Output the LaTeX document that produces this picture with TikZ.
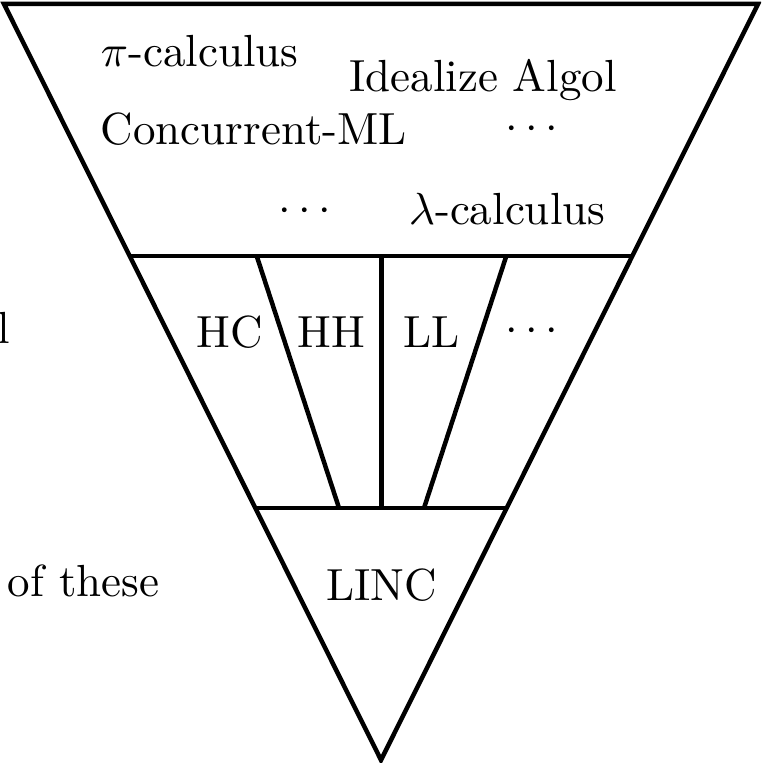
\documentclass[tikz,border=0pt]{standalone}
\begin{document}
\begin{tikzpicture}[x=0.2222pt,y=-0.2222pt,
  edge/.style={line width=1pt},
  lbl/.style={inner sep=0pt,anchor=base}]
\useasboundingbox (0,0) rectangle (761,763);
\clip (0,0) rectangle (761,763);
% corners
\coordinate (tl) at (4,4);
\coordinate (tr) at (758,4);
\coordinate (apex) at (381,760);
\coordinate (l1) at (129.5,256);
\coordinate (r1) at (632.5,256);
\coordinate (l2) at (256,508);
\coordinate (r2) at (506,508);
\coordinate (a1) at (256.7,256);
\coordinate (a2) at (339,508);
\coordinate (c1) at (381.5,256);
\coordinate (c2) at (381.5,508);
\coordinate (b1) at (506.3,256);
\coordinate (b2) at (424,508);
\draw[edge,line join=miter] (tl) -- (tr) -- (apex) -- cycle;
\draw[edge] (l1) -- (r1);
\draw[edge] (l2) -- (r2);
\draw[edge] (a1) -- (a2);
\draw[edge] (c1) -- (c2);
\draw[edge] (b1) -- (b2);
% top region
\node[lbl,anchor=base west] (pi) at (100,67) {$\pi$-calculus};
\node[lbl] (ia) at (483,92) {Idealize Algol};
\node[lbl,anchor=base west] (cml) at (100,145) {Concurrent-ML};
\node[lbl] (d1) at (532,140) {$\cdots$};
\node[lbl] (d2) at (305,222) {$\cdots$};
\node[lbl] (lam) at (507,225) {$\lambda$-calculus};
% middle
\node[lbl] (hc) at (230,348) {HC};
\node[lbl] (hh) at (331,348) {HH};
\node[lbl] (ll) at (431.5,348) {LL};
\node[lbl] (d3) at (531.5,342) {$\cdots$};
% bottom
\node[lbl] (linc) at (381.5,600) {LINC};
% left labels (clipped)
\node[lbl,anchor=base east] (lv) at (11,344) {l};
\node[lbl,anchor=base west] (ot) at (7,596) {of these};
\end{tikzpicture}
\end{document}
